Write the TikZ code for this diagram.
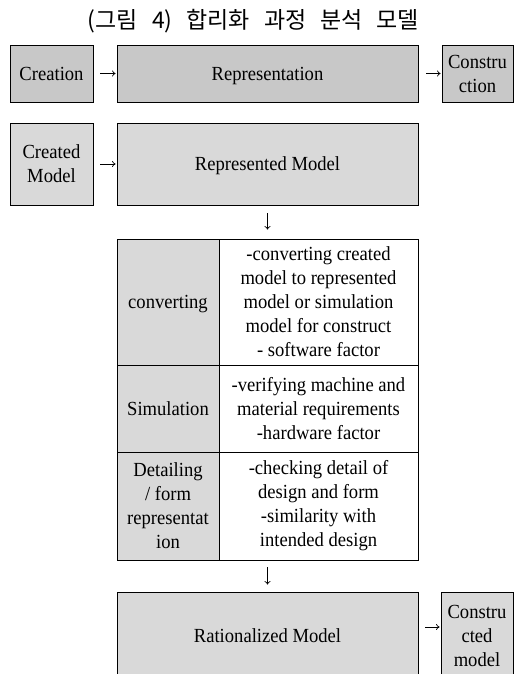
\documentclass[tikz,border=0pt]{standalone}
\usepackage{fontspec}
\setmainfont{Liberation Serif}[FakeStretch=0.93]
\newfontfamily\cjk{Noto Sans CJK KR}
\usetikzlibrary{arrows.meta}
\definecolor{darkbox}{RGB}{200,200,200}
\definecolor{lightbox}{RGB}{217,217,217}
\tikzset{
  boxbase/.style={draw=black, line width=0.8pt, inner sep=0pt, align=center,
    font=\fontsize{20}{24}\selectfont},
  darkcell/.style={boxbase, fill=darkbox},
  lightcell/.style={boxbase, fill=lightbox},
  whitecell/.style={boxbase, fill=white},
  nodepth/.style={text depth=0pt},
  arr/.style={line width=0.7pt, -{To[length=3.5pt,width=6pt]}},
}
\begin{document}
\begin{tikzpicture}[x=1pt,y=-1pt]
\useasboundingbox (0,0) rectangle (515,674);
\fill[white] (0,0) rectangle (515,674);
% title
\node (title) at (253.5,21) {\cjk\fontsize{23}{27}\selectfont\spaceskip=14pt (그림 4) 합리화 과정 분석 모델};
% row 1
\node[darkcell, minimum width=83, minimum height=57] (creation) at (51.5,73.5) {Creation};
\node[darkcell, nodepth, minimum width=301, minimum height=57] (repr) at (267.5,73.5) {Representation};
\node[darkcell, minimum width=71, minimum height=57] (constr) at (477.5,73.5) {Constru\\ction};
% row 2
\node[lightcell, minimum width=83, minimum height=82] (created) at (51.5,164) {Created\\Model};
\node[lightcell, nodepth, minimum width=301, minimum height=82] (reprm) at (267.5,164) {Represented Model};
% table
\node[lightcell, nodepth, minimum width=102, minimum height=126] (c1l) at (168,302) {converting};
\node[whitecell, minimum width=199, minimum height=126] (c1r) at (318.5,302) {-converting created\\model to represented\\model or simulation\\model for construct\\- software factor};
\node[lightcell, minimum width=102, minimum height=87] (c2l) at (168,408.5) {Simulation};
\node[whitecell, minimum width=199, minimum height=87] (c2r) at (318.5,408.5) {-verifying machine and\\material requirements\\-hardware factor};
\node[lightcell, minimum width=102, minimum height=108] (c3l) at (168,506) {Detailing\\/ form\\representat\\ion};
\node[whitecell, minimum width=199, minimum height=108] (c3r) at (318.5,506) {-checking detail of\\design and form\\-similarity with\\intended design};
% bottom
\node[lightcell, minimum width=301, minimum height=88] (rat) at (267.5,636) {Rationalized Model};
\node[lightcell, minimum width=72, minimum height=88] (cm) at (477,636) {Constru\\cted\\model};
% arrows
\draw[arr, shorten <=7pt, shorten >=1pt] (creation.east) -- (repr.west);
\draw[arr, shorten <=8pt, shorten >=1pt] (repr.east) -- (constr.west);
\draw[arr, shorten <=7pt, shorten >=1pt] (created.east) -- (reprm.west);
\draw[arr, shorten <=8pt, shorten >=9pt] (reprm.south) -- (c1l.north -| reprm.south);
\draw[arr, shorten <=7pt, shorten >=7pt] (c3l.south -| rat.north) -- (rat.north);
\coordinate (ra) at (418,627);
\draw[arr, shorten <=7pt, shorten >=1pt] (ra) -- (cm.west |- ra);
\end{tikzpicture}
\end{document}
